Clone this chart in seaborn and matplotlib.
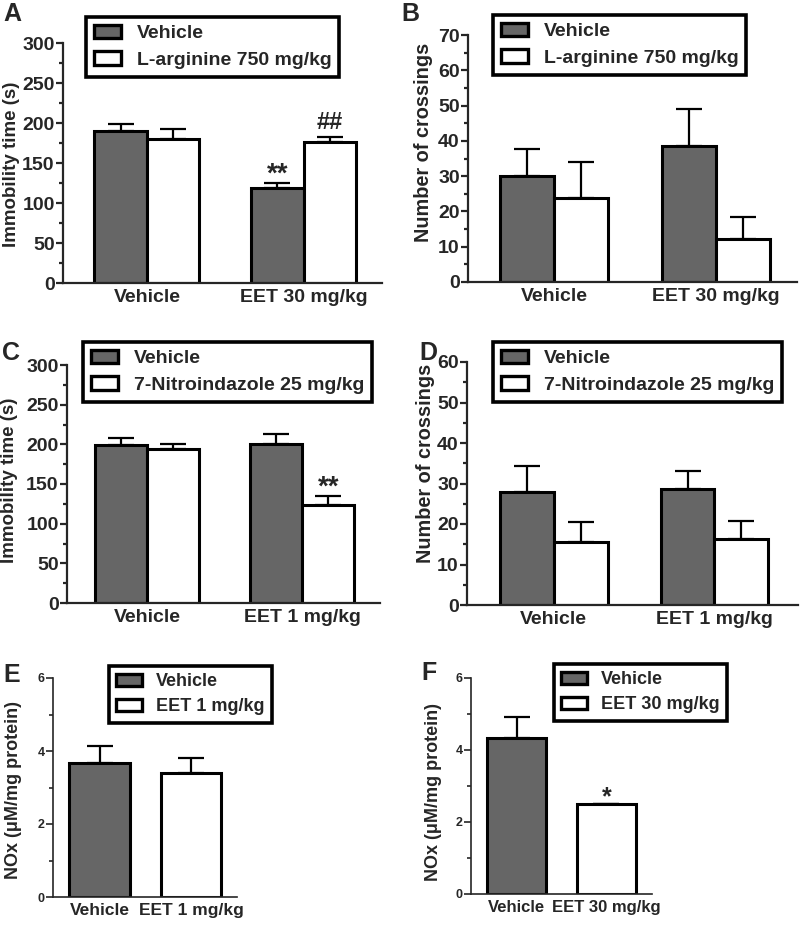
import numpy as np
import pandas as pd
import seaborn as sns
import matplotlib.pyplot as plt
from matplotlib.patches import Patch
from matplotlib.ticker import MultipleLocator

sns.set_style("ticks")
plt.rcParams['font.family'] = ['Liberation Sans', 'DejaVu Sans']
plt.rcParams['font.weight'] = 'bold'

GRAY = "#666666"

# A: immobility time, L-arginine
groups_a = ["Vehicle", "EET 30 mg/kg"]
treat_a = ["Vehicle", "L-arginine 750 mg/kg"]
a_veh = [190, 119]
a_veh_sem = [9, 6]
a_trt = [180, 176]
a_trt_sem = [13, 7]

# B: crossings, L-arginine
b_veh = [30.0, 38.5]
b_veh_sem = [7.8, 10.5]
b_trt = [23.7, 12.2]
b_trt_sem = [10.2, 6.1]

# C: immobility time, 7-nitroindazole
groups_c = ["Vehicle", "EET 1 mg/kg"]
treat_c = ["Vehicle", "7-Nitroindazole 25 mg/kg"]
c_veh = [198.6, 200.7]
c_veh_sem = [9.5, 12.3]
c_trt = [194, 123]
c_trt_sem = [6, 12.5]

# D: crossings, 7-nitroindazole
d_veh = [27.8, 28.6]
d_veh_sem = [6.6, 4.6]
d_trt = [15.5, 16.2]
d_trt_sem = [5.0, 4.6]

# E / F: NOx
groups_e = ["Vehicle", "EET 1 mg/kg"]
e_vals = [3.66, 3.40]
e_sem = [0.48, 0.42]
groups_f = ["Vehicle", "EET 30 mg/kg"]
f_vals = [4.32, 2.49]
f_sem = [0.60, 0.02]


fig = plt.figure(figsize=(8, 9.39), dpi=100)

def add_ax(l, t, r, b):
    W, H = 800, 939
    return fig.add_axes([l / W, (H - b) / H, (r - l) / W, (b - t) / H])


def style_axis(ax, ymax, major, minor, spine_lw, tick_fs, xtick_fs, ylabel, label_xy, label_fs):
    sns.despine(ax=ax)
    for s in ["left", "bottom"]:
        ax.spines[s].set_linewidth(spine_lw)
    ax.set_ylim(0, ymax)
    ax.yaxis.set_major_locator(MultipleLocator(major))
    ax.yaxis.set_minor_locator(MultipleLocator(minor))
    ax.tick_params(axis='y', which='major', length=5, width=spine_lw, labelsize=tick_fs, pad=1)
    ax.tick_params(axis='y', which='minor', length=3, width=spine_lw)
    ax.tick_params(axis='x', length=0, labelsize=xtick_fs, pad=4)
    ax.set_xlabel("")
    ax.set_ylabel(ylabel, fontsize=label_fs, fontweight='bold')
    ax.yaxis.set_label_coords(*label_xy)


def add_errors(ax, means, sems):
    bars = [b for c in ax.containers for b in c]
    for bar, m, s in zip(bars, means, sems):
        x = bar.get_x() + bar.get_width() / 2
        ax.errorbar(x, m, yerr=[[0], [s]], fmt='none', ecolor='black',
                    elinewidth=1.6, capsize=9.5, capthick=1.6, zorder=1)
    return bars


def add_legend(ax, labels, x, y, fs=14):
    handles = [Patch(facecolor=GRAY, edgecolor='black', linewidth=2.4),
               Patch(facecolor='white', edgecolor='black', linewidth=2.4)]
    leg = ax.legend(handles, labels, loc='upper left', bbox_to_anchor=(x / 800, 1 - y / 939),
                    bbox_transform=fig.transFigure, frameon=True, fancybox=False,
                    edgecolor='black', framealpha=1, borderaxespad=0, borderpad=0.4,
                    handlelength=1.4, handleheight=0.7, handletextpad=0.8, labelspacing=0.45,
                    prop={'size': fs, 'weight': 'bold'})
    leg.get_frame().set_linewidth(2.6)


def grouped_panel(ax, groups, treats, veh, veh_sem, trt, trt_sem, xlim):
    df = pd.DataFrame({
        'group': groups * 2,
        'treatment': [treats[0]] * 2 + [treats[1]] * 2,
        'value': veh + trt,
    })
    sns.barplot(data=df, x='group', y='value', hue='treatment', order=groups,
                hue_order=treats, palette=[GRAY, 'white'], edgecolor='black',
                linewidth=2.2, width=0.67, errorbar=None, legend=False, ax=ax, zorder=2)
    bars = add_errors(ax, veh + trt, veh_sem + trt_sem)
    ax.set_xlim(*xlim)
    return bars


def single_panel(ax, groups, vals, sems, xlim):
    df = pd.DataFrame({'group': groups, 'value': vals})
    sns.barplot(data=df, x='group', y='value', hue='group', order=groups,
                hue_order=groups, palette=[GRAY, 'white'], edgecolor='black',
                linewidth=2.2, width=0.66, errorbar=None, legend=False, ax=ax, zorder=2)
    bars = add_errors(ax, vals, sems)
    ax.set_xlim(*xlim)
    return bars


def mark(ax, bar, top, text, fs=20, off=0.0):
    x = bar.get_x() + bar.get_width() / 2
    ax.text(x, top + off, text, ha='center', va='bottom', fontsize=fs, fontweight='bold')


# A
ax = add_ax(63, 43, 382, 283)
bars = grouped_panel(ax, groups_a, treat_a, a_veh, a_veh_sem, a_trt, a_trt_sem, (-0.535, 1.5))
style_axis(ax, 300, 50, 25, 1.6, 14, 14, "Immobility time (s)", (-0.135, 0.494), 13.5)
add_legend(ax, treat_a, 86, 17)
mark(ax, bars[1], a_veh[1] + a_veh_sem[1], "**", off=-6)
mark(ax, bars[3], a_trt[1] + a_trt_sem[1], "##", fs=17, off=3)

# B
ax = add_ax(468, 35, 797, 282)
grouped_panel(ax, groups_a, treat_a, b_veh, b_veh_sem, b_trt, b_trt_sem, (-0.53, 1.5))
style_axis(ax, 70, 10, 5, 1.6, 14, 14, "Number of crossings", (-0.106, 0.567), 14.3)
add_legend(ax, treat_a, 493, 15)

# C
ax = add_ax(67, 365, 380, 603)
bars = grouped_panel(ax, groups_c, treat_c, c_veh, c_veh_sem, c_trt, c_trt_sem, (-0.516, 1.5))
style_axis(ax, 300, 50, 25, 1.6, 14, 14, "Immobility time (s)", (-0.157, 0.517), 13.5)
add_legend(ax, treat_c, 83, 342)
mark(ax, bars[3], c_trt[1] + c_trt_sem[1], "**", off=-6)

# D
ax = add_ax(467, 362, 798, 605)
grouped_panel(ax, groups_c, treat_c, d_veh, d_veh_sem, d_trt, d_trt_sem, (-0.54, 1.52))
style_axis(ax, 60, 10, 5, 1.6, 14, 14, "Number of crossings", (-0.097, 0.584), 14.3)
add_legend(ax, treat_c, 493, 342)

# E
ax = add_ax(53, 678, 237, 897)
single_panel(ax, groups_e, e_vals, e_sem, (-0.51, 1.5))
style_axis(ax, 6, 2, 1, 1.2, 9, 12.5, "NOx (\u03bcM/mg protein)", (-0.168, 0.489), 13)
add_legend(ax, groups_e, 109, 666, fs=13)

# F
ax = add_ax(471, 678, 652, 894)
bars = single_panel(ax, groups_f, f_vals, f_sem, (-0.51, 1.51))
style_axis(ax, 6, 2, 1, 1.2, 9, 12, "NOx (\u03bcM/mg protein)", (-0.16, 0.472), 13)
add_legend(ax, groups_f, 554, 664, fs=13)
mark(ax, bars[1], f_vals[1] + f_sem[1], "*", fs=18, off=-0.15)

# panel letters
for letter, x, y in [("A", 3, 2), ("B", 401, 2), ("C", 2, 341), ("D", 419, 341),
                     ("E", 3, 663), ("F", 421, 661)]:
    fig.text(x / 800, 1 - y / 939, letter, fontsize=18, fontweight='bold', va='top', ha='left')

fig.savefig("out.png", dpi=100)
